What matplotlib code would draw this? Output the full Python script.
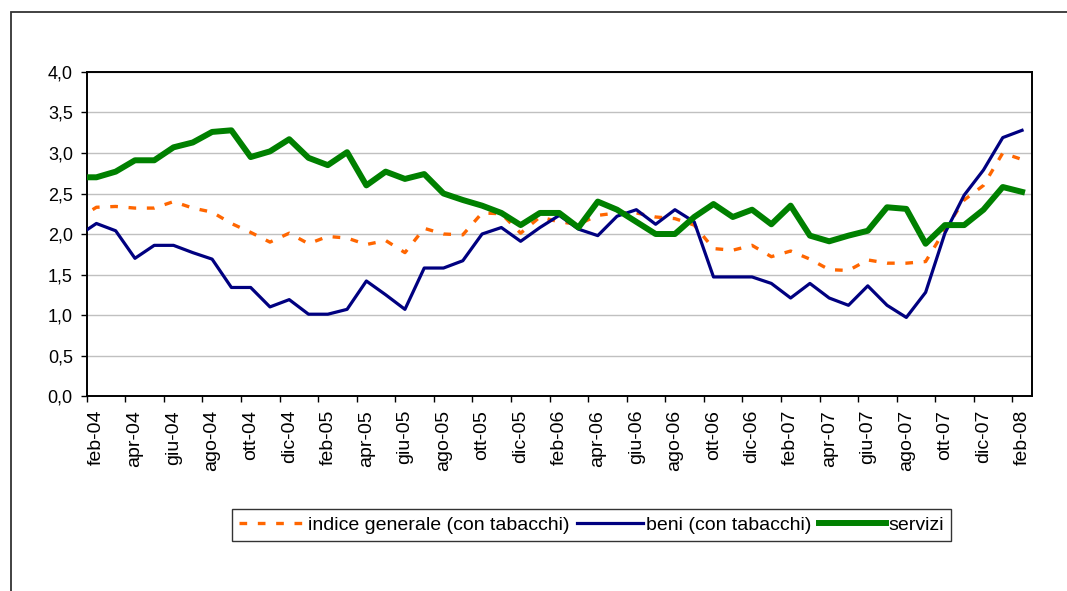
import matplotlib
matplotlib.use("Agg")
import matplotlib.pyplot as plt
from matplotlib.patches import Rectangle
import numpy as np

plt.rcParams['font.family'] = ['Liberation Sans', 'DejaVu Sans']

# Monthly data, gen-04 .. feb-08 (gen-04 lies just outside the visible axis)
mesi = ['gen', 'feb', 'mar', 'apr', 'mag', 'giu', 'lug', 'ago', 'set', 'ott', 'nov', 'dic']
periodi = [f"{m}-{a}" for a in ['04', '05', '06', '07'] for m in mesi] + ['gen-08', 'feb-08']

indice_generale = [2.18, 2.33, 2.34, 2.32, 2.32, 2.40, 2.32, 2.27, 2.13, 2.02,
                   1.90, 2.01, 1.88, 1.97, 1.95, 1.87, 1.92, 1.77, 2.07, 2.00,
                   1.99, 2.26, 2.25, 2.01, 2.21, 2.15, 2.12, 2.23, 2.26, 2.26,
                   2.21, 2.19, 2.11, 1.82, 1.80, 1.86, 1.72, 1.79, 1.69, 1.56,
                   1.55, 1.68, 1.64, 1.64, 1.66, 2.05, 2.42, 2.60, 3.00, 2.92]
beni = [1.97, 2.13, 2.04, 1.70, 1.86, 1.86, 1.77, 1.69, 1.34, 1.34,
        1.10, 1.19, 1.01, 1.01, 1.07, 1.42, 1.25, 1.07, 1.58, 1.58,
        1.67, 2.00, 2.08, 1.91, 2.08, 2.23, 2.06, 1.98, 2.22, 2.30,
        2.12, 2.30, 2.15, 1.47, 1.47, 1.47, 1.39, 1.21, 1.39, 1.21,
        1.12, 1.36, 1.12, 0.97, 1.28, 2.01, 2.48, 2.79, 3.19, 3.28]
servizi = [2.70, 2.70, 2.77, 2.91, 2.91, 3.07, 3.13, 3.26, 3.28, 2.95,
           3.02, 3.17, 2.94, 2.85, 3.01, 2.60, 2.77, 2.68, 2.74, 2.50,
           2.42, 2.35, 2.26, 2.11, 2.26, 2.26, 2.08, 2.40, 2.30, 2.15,
           2.00, 2.00, 2.21, 2.37, 2.21, 2.30, 2.12, 2.35, 1.98, 1.91,
           1.98, 2.04, 2.33, 2.31, 1.88, 2.11, 2.11, 2.30, 2.58, 2.52]

x = np.arange(len(periodi))

fig = plt.figure(figsize=(10.67, 5.91), dpi=100)
ax = fig.add_axes([0.0813, 0.3299, 0.8856, 0.5483])

# chart area frame (only left and top edges fall inside the image)
fig.patches.append(Rectangle((11 / 1067, -0.1), 1.2, 1 - 12 / 591 + 0.1,
                             transform=fig.transFigure, fill=False,
                             edgecolor='#333333', linewidth=1.3))

l1, = ax.plot(x, indice_generale, color='#FF6600', linewidth=2.4,
              dashes=(2.3, 3.2), label='indice generale (con tabacchi)', zorder=3)
l2, = ax.plot(x, beni, color='#000080', linewidth=2.3,
              label='beni (con tabacchi)', zorder=4)
l3, = ax.plot(x, servizi, color='#008000', linewidth=4.3,
              label='servizi', zorder=5)

ax.set_xlim(0.5, len(periodi) - 0.5)
ax.set_ylim(0, 4)

yticks = np.arange(0, 4.01, 0.5)
ax.set_yticks(yticks)
ax.set_yticklabels([f"{v:.1f}".replace('.', ',') for v in yticks], fontsize=13)
ax.yaxis.grid(True, color='#C0C0C0', linewidth=1.0)
ax.set_axisbelow(True)

lab_pos = x[1::2]
ax.set_xticks(lab_pos)
ax.set_xticklabels(periodi[1::2], rotation=90, fontsize=14)
ax.set_xticks(np.arange(0.5, len(periodi) - 0.5, 2), minor=True)
ax.tick_params(axis='x', which='major', length=0, pad=10)
ax.tick_params(axis='x', which='minor', length=4, width=1, direction='out')
ax.tick_params(axis='y', length=4, width=1, pad=6)

for s in ax.spines.values():
    s.set_color('black')
    s.set_linewidth(1.4)

leg = fig.legend(handles=[l1, l2, l3], loc='center', bbox_to_anchor=(0.5544, 0.1117),
                 ncol=3, fontsize=14, frameon=True, fancybox=False,
                 handlelength=3.4, handletextpad=0.15, columnspacing=0.4,
                 borderpad=0.35, borderaxespad=0)
leg.get_frame().set_edgecolor('black')
leg.get_frame().set_linewidth(1.0)

fig.savefig('out.png', dpi=100)
